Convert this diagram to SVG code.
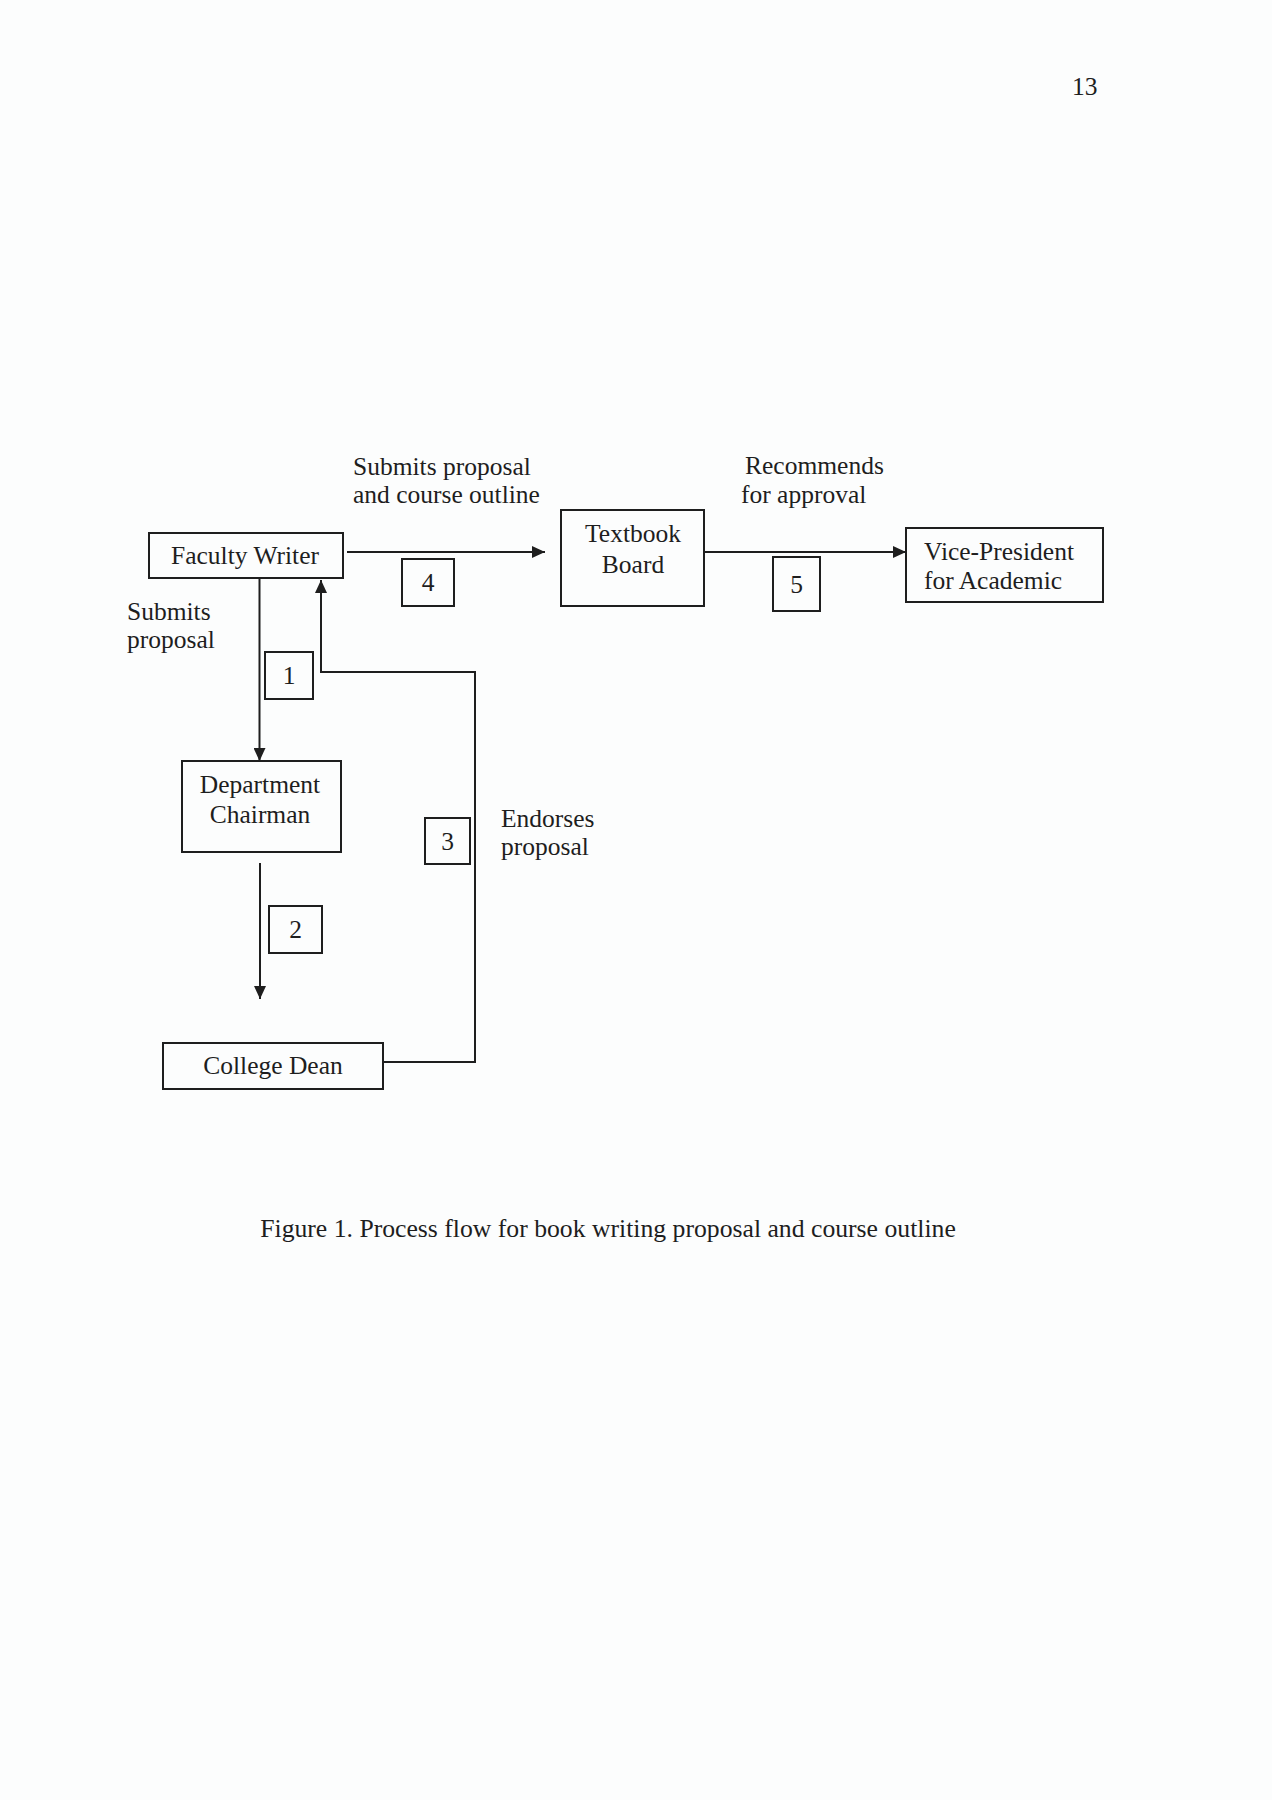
<svg xmlns="http://www.w3.org/2000/svg" width="1272" height="1800" viewBox="0 0 1272 1800">
<defs>
<marker id="arr" markerUnits="userSpaceOnUse" markerWidth="14" markerHeight="12" refX="13" refY="6" orient="auto">
<path d="M0,0 L13,6 L0,12 z" fill="#1e1e1e"/>
</marker>
<style>
text{font-family:"Liberation Serif","Times New Roman",serif;font-size:25.5px;fill:#1e1e1e}
.c{text-anchor:middle}
.box{fill:none;stroke:#1e1e1e;stroke-width:2}
.ln{fill:none;stroke:#1e1e1e;stroke-width:2}
</style>
</defs>
<rect x="0" y="0" width="1272" height="1800" fill="#fcfdfd"/>
<text x="1072" y="95">13</text>

<g id="connectors">
<line class="ln" x1="259.5" y1="578" x2="259.5" y2="761" marker-end="url(#arr)"/>
<line class="ln" x1="260" y1="863" x2="260" y2="999" marker-end="url(#arr)"/>
<path class="ln" d="M383,1062 H475 V672 H321 V580" marker-end="url(#arr)"/>
<line class="ln" x1="347" y1="552" x2="545" y2="552" marker-end="url(#arr)"/>
<line class="ln" x1="704" y1="552" x2="906" y2="552" marker-end="url(#arr)"/>
</g>

<g id="labels">
<text x="353" y="475">Submits proposal</text>
<text x="353" y="503">and course outline</text>
<text x="745" y="474">Recommends</text>
<text x="741" y="503">for approval</text>
<text x="127" y="620">Submits</text>
<text x="127" y="648">proposal</text>
<text x="501" y="827">Endorses</text>
<text x="501" y="855">proposal</text>
</g>

<g id="step1"><rect class="box" x="265" y="652" width="48" height="47"/><text class="c" x="289" y="684">1</text></g>
<g id="step2"><rect class="box" x="269" y="906" width="53" height="47"/><text class="c" x="295.5" y="938">2</text></g>
<g id="step3"><rect class="box" x="425" y="818" width="45" height="46"/><text class="c" x="447.5" y="850">3</text></g>
<g id="step4"><rect class="box" x="402" y="559" width="52" height="47"/><text class="c" x="428" y="591">4</text></g>
<g id="step5"><rect class="box" x="773" y="557" width="47" height="54"/><text class="c" x="796.5" y="593">5</text></g>

<g id="faculty-writer"><rect class="box" x="149" y="533" width="194" height="45"/><text class="c" x="245" y="564">Faculty Writer</text></g>
<g id="textbook-board"><rect class="box" x="561" y="510" width="143" height="96"/><text class="c" x="633" y="542">Textbook</text><text class="c" x="633" y="573">Board</text></g>
<g id="vice-president"><rect class="box" x="906" y="528" width="197" height="74"/><text x="924" y="560">Vice-President</text><text x="924" y="589">for Academic</text></g>
<g id="department-chairman"><rect class="box" x="182" y="761" width="159" height="91"/><text class="c" x="260" y="793">Department</text><text class="c" x="260" y="823">Chairman</text></g>
<g id="college-dean"><rect class="box" x="163" y="1043" width="220" height="46"/><text class="c" x="273" y="1074">College Dean</text></g>

<text class="c" x="608" y="1237" style="font-size:25.7px">Figure 1. Process flow for book writing proposal and course outline</text>
</svg>
